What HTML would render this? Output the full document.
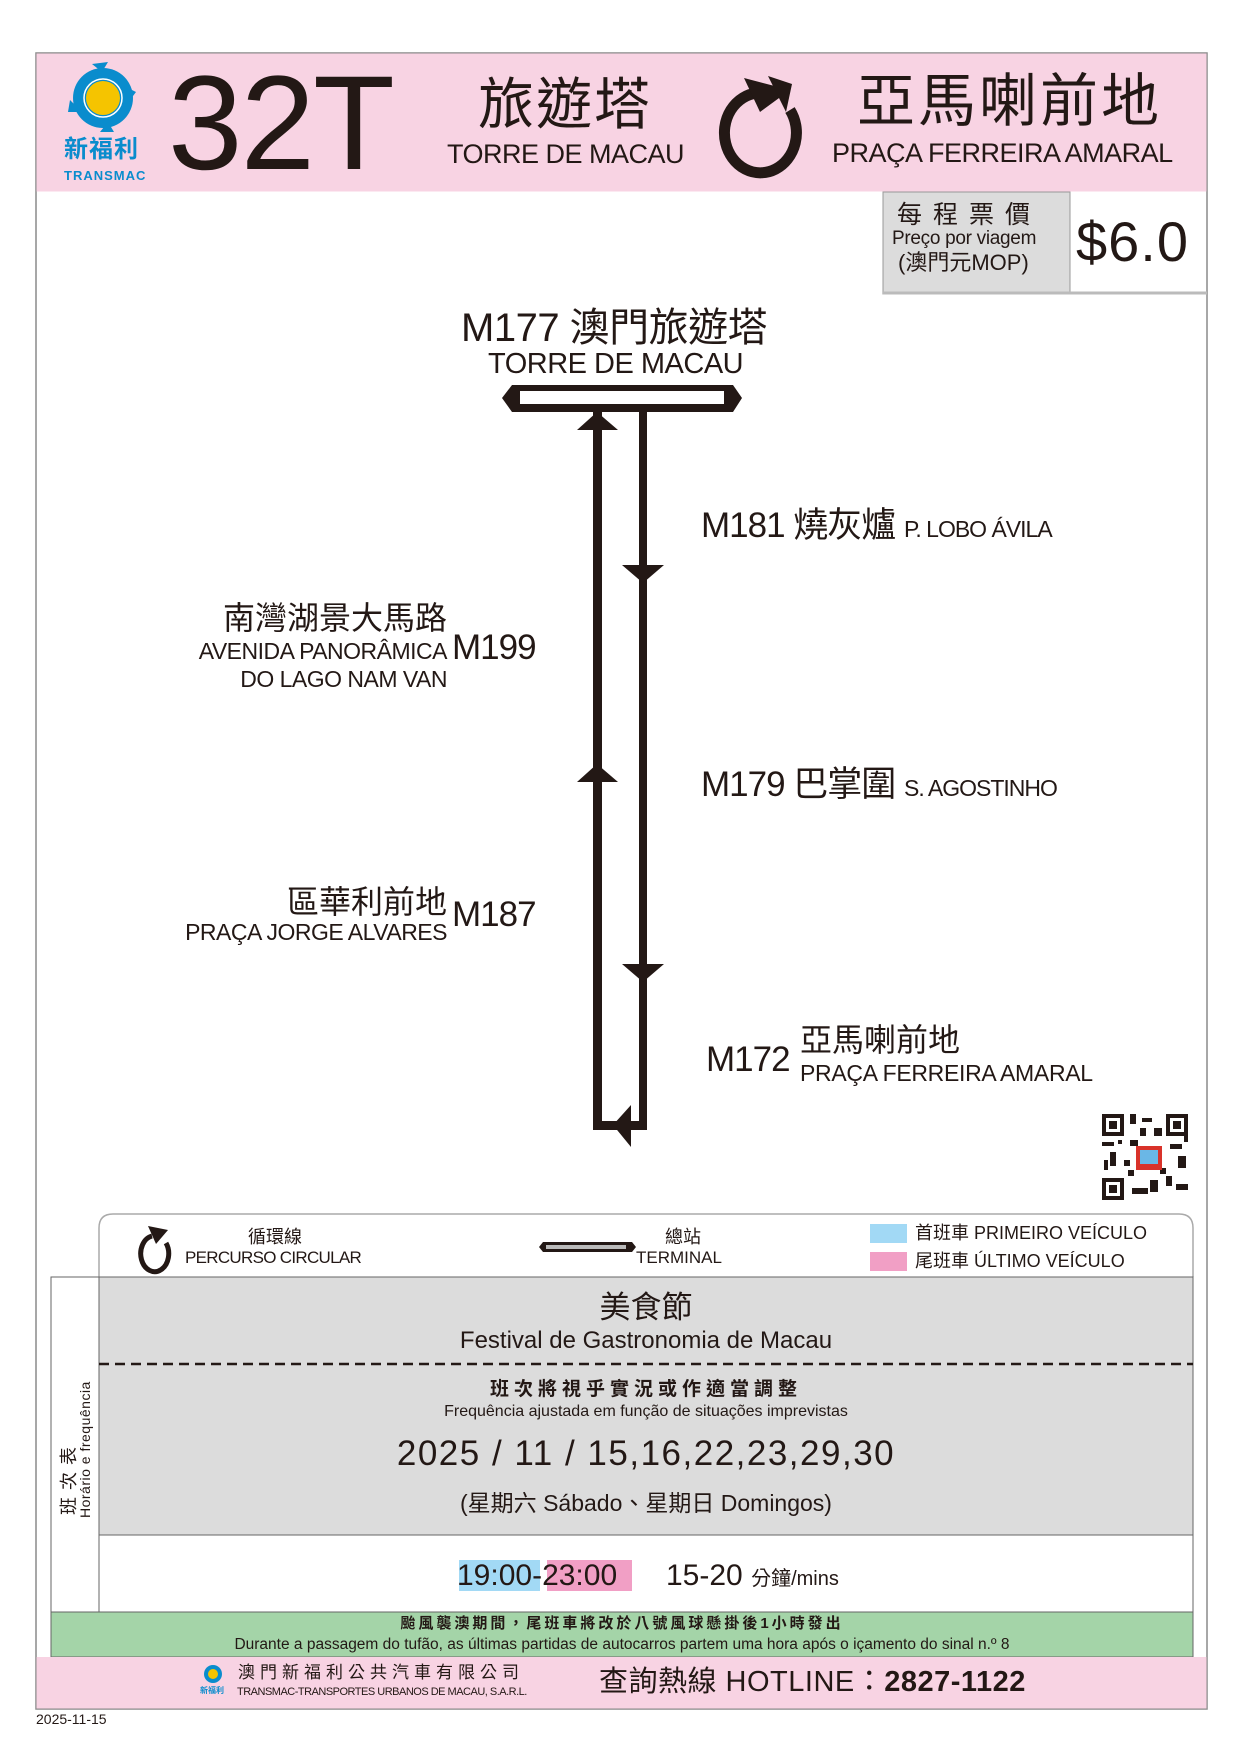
<!DOCTYPE html>
<html><head><meta charset="utf-8"><style>
body{margin:0;width:1241px;height:1755px;background:#fff;position:relative;overflow:hidden;font-family:"Liberation Sans","Noto Sans CJK TC",sans-serif;color:#231815}
.a{position:absolute;white-space:nowrap;line-height:1}
svg{position:absolute;left:0;top:0}
</style></head><body>
<svg width="1241" height="1755">
<rect x="36" y="53" width="1171" height="1656" fill="none" stroke="#8a8a8a" stroke-width="1.5"/>
<rect x="36.5" y="53.5" width="1170" height="138" fill="#f8d3e3"/>
<!-- logo -->
<circle cx="103" cy="98" r="30" fill="#0a8ccd"/>
<circle cx="103" cy="98" r="17" fill="#f5c400"/>
<circle cx="103" cy="98" r="19" fill="none" stroke="#fff" stroke-width="1.5"/>
<polygon points="92,64 108,62 102,72" fill="#0a8ccd"/><polygon points="70,100 82,112 68,112" fill="#0a8ccd"/><polygon points="136,92 124,86 130,100" fill="#0a8ccd"/><polygon points="114,132 100,132 108,122" fill="#0a8ccd"/>
<!-- circular arrow -->
<path d="M757 93 A36 40 0 1 0 790 110" fill="none" stroke="#231815" stroke-width="11"/>
<polygon points="744,78 790,90 760,112" fill="#231815"/>
<polygon points="768,76 792,84 786,112" fill="#231815"/>
<!-- fare -->
<rect x="883" y="192" width="187" height="102" fill="#dcdcdc" stroke="#999" stroke-width="1"/>
<line x1="883" y1="293" x2="1207" y2="293" stroke="#bbb" stroke-width="3"/>
<!-- terminal -->
<polygon points="502,398 512,385 733,385 742,398 733,412 512,412" fill="#231815"/>
<rect x="520" y="391" width="204" height="13" fill="#fff"/>
<!-- route -->
<rect x="593" y="412" width="9" height="718" fill="#231815"/>
<rect x="639" y="412" width="8" height="718" fill="#231815"/>
<rect x="593" y="1121" width="54" height="9" fill="#231815"/>
<polygon points="613,1125 631,1105 631,1147" fill="#231815"/>
<polygon points="597,412 577,430 618,430" fill="#231815"/>
<polygon points="643,583 622,565 664,565" fill="#231815"/>
<polygon points="597,764 577,782 618,782" fill="#231815"/>
<polygon points="643,982 622,964 664,964" fill="#231815"/>
<!-- QR -->
<rect x="1102" y="1114" width="86" height="86" fill="#fff"/>
<g fill="#231815">
<rect x="1102" y="1114" width="22" height="22"/><rect x="1106" y="1118" width="14" height="14" fill="#fff"/><rect x="1109" y="1121" width="8" height="8"/>
<rect x="1166" y="1114" width="22" height="22"/><rect x="1170" y="1118" width="14" height="14" fill="#fff"/><rect x="1173" y="1121" width="8" height="8"/>
<rect x="1102" y="1178" width="22" height="22"/><rect x="1106" y="1182" width="14" height="14" fill="#fff"/><rect x="1109" y="1185" width="8" height="8"/>
<rect x="1130" y="1114" width="6" height="10"/><rect x="1142" y="1118" width="10" height="4"/><rect x="1130" y="1140" width="8" height="6"/><rect x="1102" y="1142" width="12" height="4"/><rect x="1110" y="1152" width="6" height="14"/><rect x="1104" y="1160" width="4" height="10"/>
<rect x="1170" y="1144" width="12" height="5"/><rect x="1178" y="1156" width="8" height="12"/><rect x="1166" y="1176" width="6" height="10"/><rect x="1176" y="1184" width="12" height="6"/><rect x="1132" y="1188" width="16" height="6"/><rect x="1150" y="1180" width="8" height="12"/><rect x="1124" y="1160" width="6" height="6"/><rect x="1154" y="1128" width="8" height="8"/>
<rect x="1118" y="1140" width="4" height="4"/><rect x="1140" y="1128" width="6" height="8"/><rect x="1128" y="1170" width="6" height="6"/><rect x="1160" y="1168" width="6" height="6"/><rect x="1184" y="1134" width="4" height="8"/>
</g>
<rect x="1136" y="1146" width="26" height="24" fill="#d9322a"/><rect x="1140" y="1150" width="18" height="14" fill="#6ab7e6"/>
<!-- legend -->
<path d="M99 1277 L99 1228 Q99 1214 113 1214 L1179 1214 Q1193 1214 1193 1228 L1193 1277" fill="#fff" stroke="#aaa" stroke-width="1.5"/>
<path d="M152 1236 A14 18 0 1 0 166 1243" fill="none" stroke="#231815" stroke-width="5"/>
<polygon points="148,1226 168,1230 156,1244" fill="#231815"/>
<polygon points="539,1247 543,1242 632,1242 636,1247 632,1252 543,1252" fill="#231815"/>
<rect x="546" y="1245" width="80" height="4" fill="#bbb"/>
<rect x="870" y="1224" width="37" height="19" fill="#a2d9f5"/>
<rect x="870" y="1252" width="37" height="19" fill="#f19fc5"/>
<!-- schedule -->
<rect x="51" y="1277" width="48" height="335" fill="#fff" stroke="#666" stroke-width="1"/>
<rect x="99" y="1277" width="1094" height="258" fill="#dcdcdc" stroke="#666" stroke-width="1"/>
<rect x="99" y="1535" width="1094" height="77" fill="#fff" stroke="#666" stroke-width="1"/>
<line x1="99" y1="1364" x2="1193" y2="1364" stroke="#231815" stroke-width="2.5" stroke-dasharray="10,6"/>
<rect x="459" y="1560" width="81" height="31" fill="#a2d9f5"/>
<rect x="547" y="1560" width="85" height="31" fill="#f19fc5"/>
<rect x="51" y="1612" width="1142" height="45" fill="#a4d4a8" stroke="#666" stroke-width="1"/>
<rect x="36.5" y="1657" width="1170" height="51.5" fill="#f8d3e3"/>
<circle cx="213" cy="1674" r="9" fill="#0a8ccd"/><circle cx="213" cy="1674" r="5" fill="#f5c400"/>
</svg>
<div class="a" style="left:64px;top:138px;font-size:24px;font-weight:bold;color:#0a8ccd;letter-spacing:1px">新福利</div>
<div class="a" style="left:64px;top:169px;font-size:13px;font-weight:bold;color:#0a8ccd;letter-spacing:1px">TRANSMAC</div>
<div class="a" style="left:168px;top:57px;font-size:134px;letter-spacing:-2px">32T</div>
<div class="a" style="left:478px;top:77px;font-size:56px;letter-spacing:2px">旅遊塔</div>
<div class="a" style="left:447px;top:141px;font-size:27px;letter-spacing:-0.5px">TORRE DE MACAU</div>
<div class="a" style="left:857px;top:73px;font-size:58px;letter-spacing:3px">亞馬喇前地</div>
<div class="a" style="left:832px;top:140px;font-size:27px;letter-spacing:-0.5px">PRAÇA FERREIRA AMARAL</div>
<div class="a" style="left:897px;top:203px;font-size:25px;letter-spacing:11px">每程票價</div>
<div class="a" style="left:892px;top:229px;font-size:19px;letter-spacing:-0.3px">Preço por viagem</div>
<div class="a" style="left:898px;top:252px;font-size:22px;letter-spacing:0px">(澳門元MOP)</div>
<div class="a" style="left:1076px;top:214px;font-size:56px;letter-spacing:1px">$6.0</div>
<div class="a" style="left:461px;top:308px;font-size:40px;letter-spacing:-0.5px">M177 澳門旅遊塔</div>
<div class="a" style="left:488px;top:350px;font-size:29px;letter-spacing:-0.5px">TORRE DE MACAU</div>
<div class="a" style="left:701px;top:508px;font-size:35px;letter-spacing:-1px">M181 燒灰爐 <span style="font-size:23px">P. LOBO ÁVILA</span></div>
<div class="a" style="left:701px;top:767px;font-size:35px;letter-spacing:-1px">M179 巴掌圍 <span style="font-size:23px">S. AGOSTINHO</span></div>
<div class="a" style="right:794px;top:602px;font-size:32px;text-align:right">南灣湖景大馬路</div>
<div class="a" style="right:794px;top:640px;font-size:23px;letter-spacing:-0.5px">AVENIDA PANORÂMICA</div>
<div class="a" style="right:794px;top:668px;font-size:23px;letter-spacing:-0.5px">DO LAGO NAM VAN</div>
<div class="a" style="left:452px;top:630px;font-size:35px;letter-spacing:-1px">M199</div>
<div class="a" style="right:794px;top:886px;font-size:32px">區華利前地</div>
<div class="a" style="right:794px;top:921px;font-size:23px;letter-spacing:-0.5px">PRAÇA JORGE ALVARES</div>
<div class="a" style="left:452px;top:897px;font-size:35px;letter-spacing:-1px">M187</div>
<div class="a" style="left:706px;top:1042px;font-size:35px;letter-spacing:-1px">M172</div>
<div class="a" style="left:800px;top:1024px;font-size:32px">亞馬喇前地</div>
<div class="a" style="left:800px;top:1062px;font-size:23px;letter-spacing:-0.3px">PRAÇA FERREIRA AMARAL</div>
<div class="a" style="left:248px;top:1228px;font-size:18px">循環線</div>
<div class="a" style="left:185px;top:1249px;font-size:17px;letter-spacing:-0.7px">PERCURSO CIRCULAR</div>
<div class="a" style="left:665px;top:1228px;font-size:18px">總站</div>
<div class="a" style="left:636px;top:1249px;font-size:17px">TERMINAL</div>
<div class="a" style="left:915px;top:1224px;font-size:18px">首班車 PRIMEIRO VEÍCULO</div>
<div class="a" style="left:915px;top:1252px;font-size:18px">尾班車 ÚLTIMO VEÍCULO</div>
<div class="a" style="left:60px;top:1515px;transform:rotate(-90deg);transform-origin:0 0;font-size:18px;letter-spacing:7px">班次表</div>
<div class="a" style="left:78px;top:1518px;transform:rotate(-90deg);transform-origin:0 0;font-size:14px;letter-spacing:0.5px">Horário e frequência</div>
<div class="a" style="left:0;width:1292px;text-align:center;top:1292px;font-size:31px">美食節</div>
<div class="a" style="left:0;width:1292px;text-align:center;top:1329px;font-size:24px">Festival de Gastronomia de Macau</div>
<div class="a" style="left:0;width:1292px;text-align:center;top:1380px;font-size:19px;letter-spacing:5px;font-weight:bold">班次將視乎實況或作適當調整</div>
<div class="a" style="left:0;width:1292px;text-align:center;top:1404px;font-size:16px">Frequência ajustada em função de situações imprevistas</div>
<div class="a" style="left:0;width:1292px;text-align:center;top:1436px;font-size:35px;letter-spacing:1.5px">2025 / 11 / 15,16,22,23,29,30</div>
<div class="a" style="left:0;width:1292px;text-align:center;top:1492px;font-size:23px">(星期六 Sábado、星期日 Domingos)</div>
<div class="a" style="left:457px;top:1561px;font-size:30px">19:00-23:00</div>
<div class="a" style="left:666px;top:1561px;font-size:30px">15-20 <span style="font-size:20px">分鐘/mins</span></div>
<div class="a" style="left:0;width:1244px;text-align:center;top:1616px;font-size:15px;font-weight:bold;letter-spacing:3px">颱風襲澳期間，尾班車將改於八號風球懸掛後1小時發出</div>
<div class="a" style="left:0;width:1244px;text-align:center;top:1637px;font-size:15.5px">Durante a passagem do tufão, as últimas partidas de autocarros partem uma hora após o içamento do sinal n.º 8</div>
<div class="a" style="left:200px;top:1687px;font-size:8px;font-weight:bold;color:#0a8ccd">新福利</div>
<div class="a" style="left:238px;top:1664px;font-size:17px;letter-spacing:5px">澳門新福利公共汽車有限公司</div>
<div class="a" style="left:237px;top:1687px;font-size:11px;letter-spacing:-0.5px">TRANSMAC-TRANSPORTES URBANOS DE MACAU, S.A.R.L.</div>
<div class="a" style="left:599px;top:1668px;font-size:29px;letter-spacing:0.5px">查詢熱線 HOTLINE：<b>2827-1122</b></div>
<div class="a" style="left:36px;top:1712px;font-size:14px">2025-11-15</div>
</body></html>
